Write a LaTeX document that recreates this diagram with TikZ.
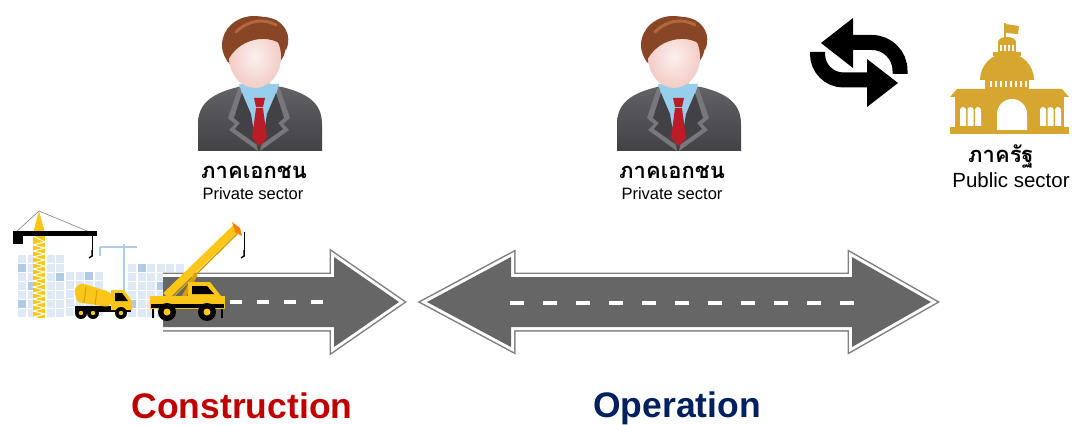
\documentclass[tikz,border=0pt]{standalone}
\usepackage{fontspec}
\setmainfont{Liberation Sans}
\newfontfamily\thaifont[Script=Thai]{Loma}
\usetikzlibrary{arrows.meta}
\definecolor{roadgray}{RGB}{102,102,102}
\definecolor{rimgray}{RGB}{128,128,128}
\definecolor{suitgray}{RGB}{66,66,70}
\definecolor{suitlite}{RGB}{98,98,102}
\definecolor{lapelgray}{RGB}{120,120,124}
\definecolor{shirtblue}{RGB}{150,206,236}
\definecolor{tiered}{RGB}{188,28,38}
\definecolor{skinpink}{RGB}{244,204,198}
\definecolor{hairbrown}{RGB}{136,70,38}
\definecolor{hairlite}{RGB}{176,104,62}
\definecolor{govgold}{RGB}{214,166,48}
\definecolor{craneyellow}{RGB}{250,198,24}
\definecolor{cranedark}{RGB}{214,160,10}
\definecolor{gridlite}{RGB}{222,233,245}
\definecolor{gridmid}{RGB}{176,202,230}
\definecolor{consred}{RGB}{192,0,0}
\definecolor{opnavy}{RGB}{0,32,96}

\begin{document}
\begin{tikzpicture}[x=1pt,y=-1pt,
  roadrim/.style={draw=rimgray, line width=9pt, line join=miter, miter limit=10},
  roadgap/.style={draw=white, line width=6pt, line join=miter, miter limit=10},
  lanemark/.style={draw=white, line width=3.5pt},
  thailabel/.style={font=\thaifont\bfseries\fontsize{22}{25}\selectfont, inner sep=0pt, anchor=base},
  englabel/.style={font=\fontsize{16.5}{19}\selectfont, inner sep=0pt, anchor=base},
  phaselabel/.style={font=\bfseries\fontsize{35.5}{40}\selectfont, inner sep=0pt, anchor=base},
  businessman/.pic={
    % suit and shoulders
    \shade[top color=suitlite, bottom color=suitgray] (-62,151) -- (-62,124) .. controls (-62,102) and (-46,93) .. (-22,87) -- (22,87) .. controls (46,93) and (62,102) .. (62,124) -- (62,151) -- cycle;
    \fill[skinpink] (-14,72) rectangle (10,92);
    % shirt, lapels, tie
    \fill[shirtblue] (-21,84) -- (19,84) -- (12,114) -- (0,142) -- (-12,114) -- cycle;
    \fill[lapelgray] (-21,86) -- (-32,118) -- (-25,124) -- (-31,130) -- (-2,151) -- (-11,114) -- cycle;
    \fill[lapelgray] (19,86) -- (30,118) -- (23,124) -- (29,130) -- (0,151) -- (9,114) -- cycle;
    \fill[suitgray] (-18,93) -- (-26,118) -- (-20,123) -- (-25,129) -- (-4,144) -- (-9,114) -- cycle;
    \fill[suitgray] (16,93) -- (24,118) -- (18,123) -- (23,129) -- (2,144) -- (7,114) -- cycle;
    \fill[tiered] (-6,98) -- (5,98) -- (3,107) -- (-4,107) -- cycle;
    \fill[tiered] (-4,108) -- (3,108) -- (7,138) -- (0,146) -- (-8,138) -- cycle;
    % head
    \fill[hairbrown] (-6,45) ellipse[x radius=32, y radius=29];
    \shade[inner color=skinpink!30!white, outer color=skinpink] (-5,57) ellipse[x radius=26, y radius=31];
    \fill[hairbrown] (-33,62) .. controls (-38,30) and (-10,8) .. (16,20) .. controls (30,28) and (30,42) .. (26,50) .. controls (20,40) and (6,37) .. (-6,40) .. controls (-18,43) and (-27,50) .. (-33,62) -- cycle;
    \draw[hairlite, line width=3pt, line cap=round] (-24,32) .. controls (-12,20) and (4,18) .. (16,25);
  }]
\useasboundingbox (0,0) rectangle (1074,425);

% building blocks behind the site
\foreach \i in {0,...,4}
  \foreach \j in {0,...,6}
    \fill[gridlite] (18+\i*9.5,255+\j*9) rectangle ++(8,7.5);
\foreach \i in {0,...,3}
  \foreach \j in {0,...,4}
    \fill[gridlite] (66+\i*9.5,272+\j*9) rectangle ++(8,7.5);
\foreach \i in {0,...,5}
  \foreach \j in {0,...,5}
    \fill[gridlite] (128+\i*9.5,264+\j*9) rectangle ++(8,7.5);
\foreach \p in {(18,264),(27.5,282),(18,300),(56,273),(75.5,290),(85,272),(137.5,264),(156.5,282),(128,300),(166,300)}
  \fill[gridmid] \p rectangle ++(8,7.5);
% faint crane in the back
\draw[gridmid, line width=1.2pt] (124,244) -- (124,300) (100,247) -- (137,247) (100,247) -- (100,256);

% construction road
\draw[roadrim] (163,277) -- (334,277) -- (334,257) -- (399,302) -- (334,347) -- (334,327) -- (163,327);
\draw[roadgap] (163,277) -- (334,277) -- (334,257) -- (399,302) -- (334,347) -- (334,327) -- (163,327);
\fill[roadgray] (163,277) -- (334,277) -- (334,257) -- (399,302) -- (334,347) -- (334,327) -- (163,327) -- cycle;
\draw[lanemark, dash pattern=on 12pt off 15pt] (230,302) -- (330,302);

% operation road
\draw[roadrim] (427,302) -- (511,257) -- (511,277) -- (852,277) -- (852,257) -- (931,302) -- (852,347) -- (852,327) -- (511,327) -- (511,347) -- cycle;
\draw[roadgap] (427,302) -- (511,257) -- (511,277) -- (852,277) -- (852,257) -- (931,302) -- (852,347) -- (852,327) -- (511,327) -- (511,347) -- cycle;
\fill[roadgray] (427,302) -- (511,257) -- (511,277) -- (852,277) -- (852,257) -- (931,302) -- (852,347) -- (852,327) -- (511,327) -- (511,347) -- cycle;
\draw[lanemark, dash pattern=on 14pt off 19pt] (510,303) -- (856,303);

% tower crane
\fill[craneyellow] (33,233) -- (39,211) -- (45,233) -- cycle;
\fill[craneyellow] (33,233) rectangle (45,318);
\draw[white, line width=1pt] (33,236) \foreach \k in {0,...,13} { -- (45,242+\k*6) -- (33,245+\k*6) };
\draw[gray, line width=0.6pt] (15,233) -- (39,211) -- (92,233);
\fill[black] (13,231) rectangle (97,236);
\fill[black] (13,236) rectangle (23,244);
\draw[black, line width=0.6pt] (92,236) -- (92,250);
\draw[black, line width=1.5pt] (92,250) -- (92,256) -- (89,258);

% mixer truck
\fill[black] (75,306) rectangle (131,312);
\fill[craneyellow, rounded corners=3pt] (74,289) -- (81,283) -- (110,292) -- (114,301) -- (108,307) -- (77,302) -- cycle;
\draw[cranedark, line width=1pt] (86,287) -- (84,303) (97,290) -- (95,305);
\fill[craneyellow] (111,290) -- (124,290) -- (132,301) -- (132,310) -- (111,310) -- cycle;
\fill[black] (115,293) -- (122,293) -- (128,301) -- (115,301) -- cycle;
\foreach \wx in {81,93,121} {
  \fill[black] (\wx,313) circle[radius=6];
  \fill[craneyellow] (\wx,313) circle[radius=2.2];
}

% mobile crane
\draw[craneyellow, line width=8pt] (166,296) -- (236,228);
\draw[cranedark, line width=1.5pt] (169,301) -- (238,233);
\fill[orange] (232,222) -- (240,228) -- (242,236) -- (235,232) -- cycle;
\draw[black, line width=0.6pt] (244,232) -- (244,250);
\draw[black, line width=1.5pt] (244,250) -- (244,256) -- (241,258);
\draw[cranedark, line width=4pt] (182,300) -- (196,274);
\fill[craneyellow] (150,296) rectangle (225,309);
\fill[craneyellow] (188,282) -- (210,282) -- (221,296) -- (188,296) -- cycle;
\fill[black] (192,286) -- (207,286) -- (214,294) -- (192,294) -- cycle;
\fill[black] (151,304) rectangle (224,308);
\draw[black, line width=1.2pt] (153,309) -- (153,318) (222,309) -- (222,318);
\foreach \wx in {167,207} {
  \fill[black] (\wx,312) circle[radius=9];
  \fill[craneyellow] (\wx,312) circle[radius=3.5];
}

% private sector people
\pic at (260,0) {businessman};
\pic at (679,0) {businessman};
\node[thailabel] (privthaiA) at (254,178.5) {ภาคเอกชน};
\node[englabel] (privengA) at (253,200) {Private sector};
\node[thailabel] (privthaiB) at (672,178.5) {ภาคเอกชน};
\node[englabel] (privengB) at (672,200) {Private sector};

% swap arrows
\draw[black, line width=15pt, rounded corners=28pt] (850,42.5) -- (900,42.5) -- (900,74);
\fill[black] (853,18) -- (853,68) -- (821,43) -- cycle;
\draw[black, line width=15pt, rounded corners=26pt] (817.5,52) -- (817.5,80) -- (869,80);
\fill[black] (867,59) -- (867,107) -- (898,83) -- cycle;

% public sector building
\draw[govgold, line width=1.5pt] (1005,23) -- (1005,42);
\fill[govgold] (1005,24) -- (1019,26) -- (1018,34) -- (1005,33) -- cycle;
\fill[govgold] (1007,42) ellipse[x radius=9, y radius=5];
\fill[govgold] (998,42) rectangle (1016,54);
\fill[govgold] (993,52) rectangle (1021,56);
\foreach \sx in {1001,1005,1009,1013}
  \draw[white, line width=1.2pt] (\sx,45) -- (\sx,51);
\fill[govgold] (980,80) arc[start angle=180, end angle=360, radius=27] -- cycle;
\fill[govgold] (985,78) rectangle (1029,91);
\foreach \sx in {991,996,...,1026}
  \draw[white, line width=1.4pt] (\sx,81) -- (\sx,87);
\fill[govgold] (957,89) -- (1062,89) -- (1069,97) -- (950,97) -- cycle;
\fill[govgold] (955,97) rectangle (1064,128);
\fill[govgold] (950,127) rectangle (1069,134);
\foreach \wx in {960,967.5,975,1040,1047.5,1055}
  \fill[white] (\wx,126) -- (\wx,110) arc[start angle=180, end angle=360, radius=3] -- (\wx+6,126) -- cycle;
\fill[white] (997,130) -- (997,114) arc[start angle=180, end angle=360, radius=15] -- (1027,130) -- cycle;
\node[thailabel] (pubthai) at (1001,162.5) {ภาครัฐ};
\node[englabel, font=\fontsize{20.5}{23}\selectfont] (pubeng) at (1011,187) {Public sector};

% phase names
\node[phaselabel, text=consred] (construction) at (242,418) {Construction};
\node[phaselabel, text=opnavy] (operation) at (677,417) {Operation};
\end{tikzpicture}
\end{document}
